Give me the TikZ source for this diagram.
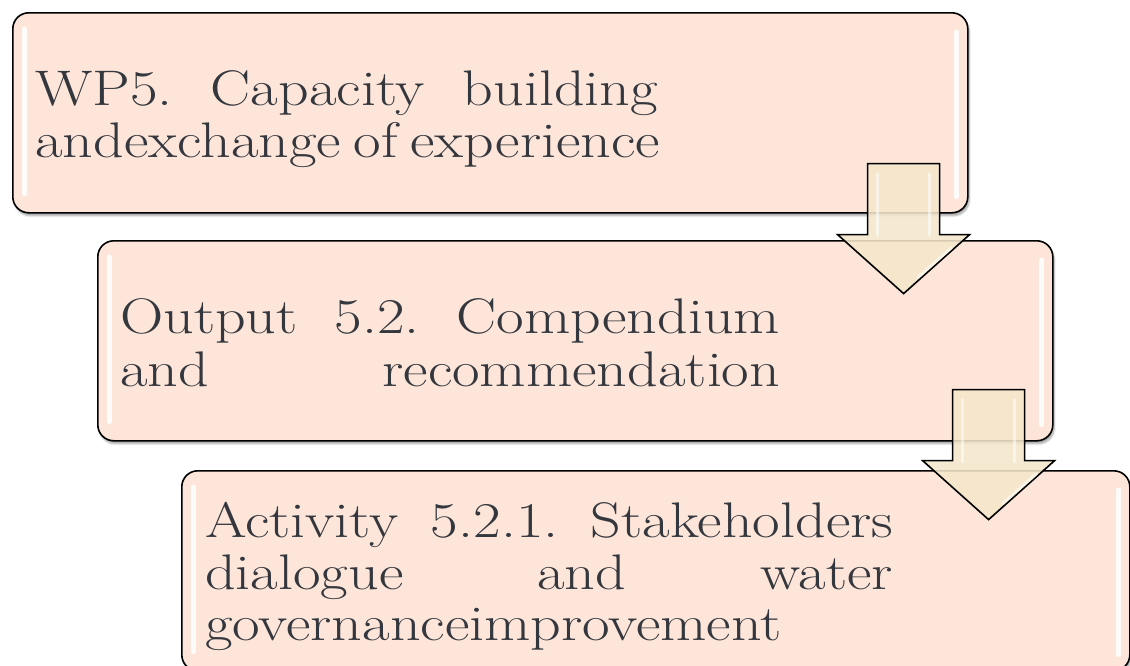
\documentclass[tikz,border=0pt]{standalone}
\usepackage{graphicx}
\usetikzlibrary{shadows.blur}

\definecolor{boxfill}{HTML}{FDE5D9}
\definecolor{arrowfill}{HTML}{F4E7CB}
\definecolor{txt}{HTML}{34373D}

% a justified line of the given final width, and a line at natural spacing
\newcommand{\jline}[2]{\scalebox{1.2}[1]{\makebox[\dimexpr#1pt*10/12\relax][s]{#2}}}
\newcommand{\nline}[1]{\scalebox{1.2}[1]{#1}}

\tikzset{
  stagebox/.style={draw=black, line width=1.6pt, fill=boxfill, rounded corners=16pt,
    minimum width=955pt, minimum height=200pt, anchor=north west, inner sep=0pt,
    blur shadow={shadow xshift=1.5pt, shadow yshift=-3pt, shadow opacity=35, shadow blur steps=6}},
  gloss/.style={line width=5pt, white, line cap=round, opacity=0.9},
  flowarrow/.style={draw=black, line width=1.6pt, fill=arrowfill, fill opacity=0.88, line join=miter},
  bevel/.style={line width=3pt, white, opacity=0.55, line cap=round},
  txtline/.style={inner sep=0pt, anchor=base west, text=txt, font=\fontsize{50}{52}\selectfont\frenchspacing}
}

\begin{document}
\begin{tikzpicture}[x=1pt, y=-1pt]
\useasboundingbox (0,0) rectangle (1130,665);
\clip (0,0) rectangle (1130,665);

% the three stages
\node[stagebox] (b1) at (12,12) {};
\node[stagebox] (b2) at (97,240) {};
\node[stagebox, minimum width=948pt] (b3) at (181,470) {};

% glossy edge highlights
\foreach \b in {b1,b2,b3}{
  \draw[gloss] ([xshift=12pt,yshift=-17pt]\b.north west) -- ([xshift=12pt,yshift=20pt]\b.south west);
  \draw[gloss] ([xshift=-12pt,yshift=-20pt]\b.north east) -- ([xshift=-12pt,yshift=17pt]\b.south east);
}

% texts
\node[txtline] (t11) at (35,105) {\jline{623}{WP5. Capacity building}};
\node[txtline] (t12) at (35,157) {\jline{625}{andexchange of experience}};
\node[txtline] (t21) at (120,333) {\jline{660}{Output 5.2. Compendium}};
\node[txtline] (t22) at (120,386) {\jline{660}{and recommendation}};
\node[txtline] (t31) at (205,537) {\jline{688}{Activity 5.2.1. Stakeholders}};
\node[txtline] (t32) at (205,589) {\jline{688}{dialogue and water}};
\node[txtline] (t33) at (205,640) {\nline{governanceimprovement}};

% down arrows between the stages
\coordinate (a1) at ([xshift=-65pt,yshift=50pt]b1.south east);
\coordinate (a2) at ([xshift=-65pt,yshift=52pt]b2.south east);
\foreach \a in {a1,a2}{
  \draw[flowarrow] (\a) ++(-36,0) -- ++(72,0) -- ++(0,71) -- ++(30,0)
     -- ++(-66,59) -- ++(-66,-59) -- ++(30,0) -- cycle;
  \draw[bevel] (\a) ++(-26,10) -- ++(0,62);
  \draw[bevel] (\a) ++(26,10) -- ++(0,62);
  \draw[bevel] (\a) ++(48,84) -- ++(-34,30);
}
\end{tikzpicture}
\end{document}
